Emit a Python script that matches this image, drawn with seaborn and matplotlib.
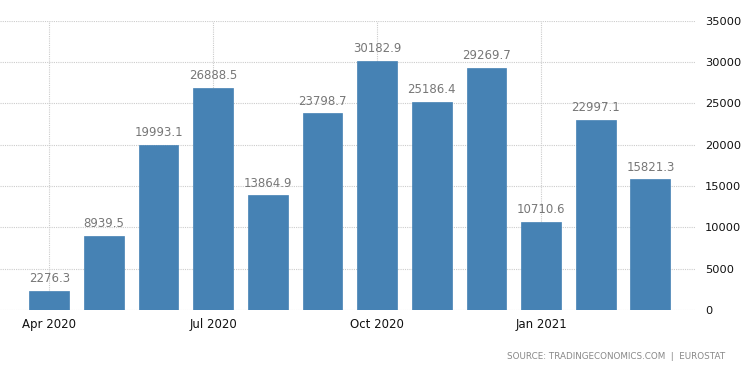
import matplotlib
matplotlib.use("Agg")
import matplotlib.pyplot as plt
import seaborn as sns
import pandas as pd

months = ["Apr 2020", "May 2020", "Jun 2020", "Jul 2020", "Aug 2020", "Sep 2020",
          "Oct 2020", "Nov 2020", "Dec 2020", "Jan 2021", "Feb 2021", "Mar 2021"]
values = [2276.3, 8939.5, 19993.1, 26888.5, 13864.9, 23798.7,
          30182.9, 25186.4, 29269.7, 10710.6, 22997.1, 15821.3]
tick_labels = ["Apr 2020", "Jul 2020", "Oct 2020", "Jan 2021"]
y_ticks = [0, 5000, 10000, 15000, 20000, 25000, 30000, 35000]

df = pd.DataFrame({"month": months, "value": values})

sns.set_style("white")
plt.rcParams["font.family"] = ["DejaVu Sans"]

fig = plt.figure(figsize=(7.5, 3.73), dpi=100)
ax = fig.add_axes([0.0, 0.169, 0.927, 0.775])

sns.barplot(data=df, x="month", y="value", order=months, color="#4682b4",
            saturation=1, width=0.73, edgecolor="#4682b4", linewidth=0.5, ax=ax)

# value labels above bars
for i, v in enumerate(values):
    ax.text(i, v + 700, f"{v:.1f}", ha="center", va="bottom",
            fontsize=8.5, color="#777777")

ax.set_xlim(-0.9, 11.82)
ax.set_ylim(0, 35000)
ax.set_xticks([months.index(m) for m in tick_labels])
ax.set_xticklabels(tick_labels, fontsize=8.5, color="#111111")
ax.set_yticks(y_ticks)
ax.set_yticklabels([str(t) for t in y_ticks], fontsize=8.2, color="#111111")
ax.yaxis.tick_right()
ax.tick_params(axis="y", length=0, pad=7)
ax.tick_params(axis="x", length=0, pad=6)
ax.set_xlabel("")
ax.set_ylabel("")

ax.grid(True, axis="both", linestyle=(0, (1, 1)), color="#cccccc", linewidth=0.8)
ax.set_axisbelow(True)
for s in ax.spines.values():
    s.set_visible(False)

fig.text(0.967, 0.045, "SOURCE: TRADINGECONOMICS.COM  |  EUROSTAT",
         ha="right", va="center", fontsize=6.3, color="#888888")

fig.savefig("out.png", dpi=100)
